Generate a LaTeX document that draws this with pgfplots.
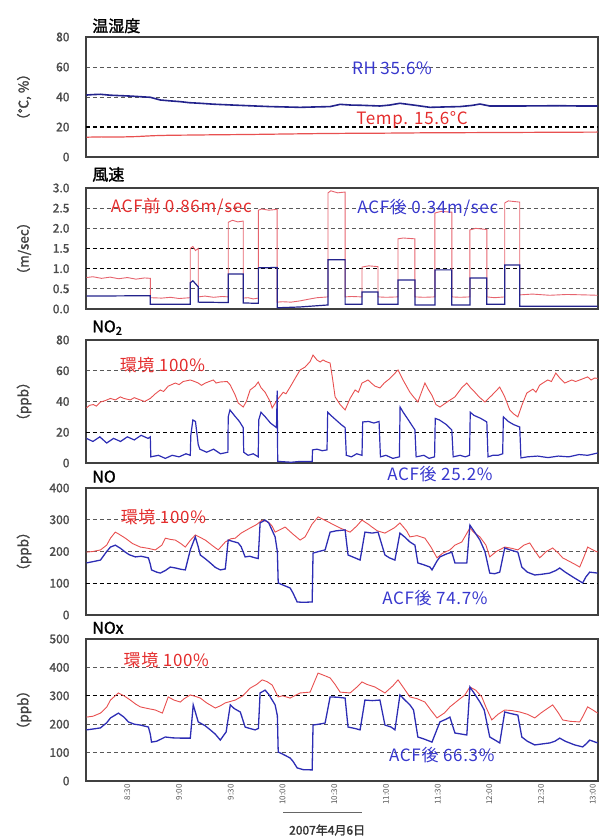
\documentclass[border=0pt]{standalone}
\usepackage{fontspec}
\setmainfont{Noto Sans CJK JP}[AutoFakeBold=1.6]
\usepackage{pgfplots}
\pgfplotsset{compat=1.18}
\definecolor{myred}{RGB}{232,80,80}
\definecolor{windred}{RGB}{230,100,110}
\definecolor{myblue}{RGB}{45,45,180}
\definecolor{navy}{RGB}{35,35,140}
\definecolor{txtred}{RGB}{228,45,45}
\definecolor{txtblue}{RGB}{55,55,205}
\newcommand{\ann}{\fontsize{17}{17}\selectfont\addfontfeature{LetterSpace=4}}
\newcommand{\ttl}{\fontsize{16}{16}\selectfont\bfseries}
\begin{document}
\begin{tikzpicture}
\useasboundingbox (0,0) rectangle (600pt,839pt);
\pgfplotsset{panel/.style={
  scale only axis, width=512pt, anchor=south west,
  xmin=6, xmax=303, xtick={30,60,...,300}, xticklabels={},
  clip mode=individual,
  axis line style={draw=black!75, line width=1.3pt},
  major tick length=0pt,
  ymajorgrids,
  major grid style={black!65, line width=0.7pt, dash pattern=on 4pt off 3pt},
  extra y tick labels={},
  extra y tick style={grid=major, major grid style={black, line width=1.1pt, dash pattern=on 4pt off 3pt}},
  tick label style={font=\fontsize{12}{12}\selectfont\bfseries, text=black!70},
  /pgf/number format/assume math mode=true,
  yticklabel style={xshift=-13pt},
  ylabel style={at={(axis description cs:-0.121,0.5)}, anchor=center, font=\fontsize{13.5}{13.5}\selectfont\bfseries, text=black!75},
}}
% ---------- Panel 1: temperature / humidity
\begin{axis}[panel, at={(86pt,682pt)}, height=120pt, ymin=0, ymax=80,
  ytick={0,20,...,80}, extra y ticks={20}, ylabel={（℃, \%）}]
\addplot[myred, line width=1.2pt] coordinates {(6.3,13.2)(15,13.4)(25,13.3)(35,13.6)(45,14.2)(55,14.5)(65,14.6)(80,14.8)(100,15.0)(120,15.3)(140,15.6)(160,15.8)(180,15.9)(200,16.1)(220,16.2)(240,16.3)(260,16.4)(280,16.5)(302.8,16.6)};
\addplot[navy, line width=1.6pt] coordinates {(6.3,41.3)(10,41.6)(14.4,41.8)(20,41.2)(25.9,40.9)(32,40.6)(37.5,40.2)(43.3,39.8)(49.1,38)(55,37.4)(60.7,36.9)(66,36.2)(72.3,35.8)(80,35.2)(89.7,34.7)(100,34.2)(112.8,33.6)(120,33.4)(130.2,33.1)(140,33.4)(147.6,33.6)(153.4,35.1)(160,34.6)(165,34.5)(176.5,34)(182,34.6)(188.1,35.8)(196.8,34.5)(205.5,33.1)(215,33.4)(222.9,33.6)(230,34.4)(234.5,35.3)(240.2,34)(250,34)(257.6,34)(270,34.1)(280.8,34.2)(292,34)(302.8,34)};
\node[text=txtblue, font=\ann] at (axis cs:183.5,59.3) {RH 35.6\%};
\node[text=txtred, font=\ann] at (axis cs:195.1,24.5) {Temp. 15.6°C};
\node[anchor=south west, font=\ttl, inner sep=0pt] at (rel axis cs:0.012,1.03) {温湿度};
\end{axis}
% ---------- Panel 2: wind speed
\begin{axis}[panel, at={(86pt,530pt)}, height=121pt, ymin=0, ymax=3,
  ytick={0,0.5,...,3.0}, extra y ticks={1.0,1.5}, ylabel={（m/sec）},
  yticklabel style={/pgf/number format/.cd, fixed, fixed zerofill, precision=1}]
\addplot[windred, line width=0.9pt] coordinates {(6.3,0.78)(10,0.80)(15,0.76)(20,0.79)(25,0.75)(30,0.78)(35,0.74)(40,0.77)(43.3,0.76)
(43.3,0.28)(50,0.27)(55,0.29)(60,0.26)(66.5,0.28)
(66.5,1.50)(68,1.55)(69.5,1.45)(71.1,1.50)
(71.1,0.30)(75,0.32)(80,0.29)(85,0.31)(88.5,0.30)
(88.5,2.15)(91,2.20)(94,2.16)(97.2,2.18)
(97.2,0.27)(100,0.28)(103,0.25)(106,0.27)
(106,2.45)(108,2.48)(112,2.45)(116.9,2.47)
(116.9,0.17)(120,0.18)(125,0.17)(130,0.20)(136,0.25)(140,0.28)(146.4,0.30)
(146.4,2.88)(148,2.93)(152,2.88)(156.3,2.90)
(156.3,0.30)(160,0.31)(166.1,0.30)
(166.1,1.04)(170,1.07)(175.4,1.05)
(175.4,0.30)(180,0.29)(187,0.30)
(187,1.74)(190,1.76)(196.8,1.74)
(196.8,0.30)(202,0.29)(208.4,0.30)
(208.4,2.38)(212,2.42)(218.2,2.40)
(218.2,0.30)(223,0.29)(228.7,0.30)
(228.7,1.96)(232,2.00)(238.5,1.97)
(238.5,0.30)(243,0.28)(248.9,0.30)
(248.9,2.63)(251,2.68)(257.6,2.65)
(257.6,0.35)(265,0.37)(275,0.34)(285,0.36)(295,0.35)(302.8,0.34)};
\addplot[navy, line width=1.2pt] coordinates {(6.3,0.32)(43.3,0.33)
(43.3,0.12)(66.5,0.12)
(66.5,0.65)(68,0.70)(71.1,0.55)
(71.1,0.17)(88.5,0.16)
(88.5,0.87)(97.2,0.87)
(97.2,0.15)(106,0.14)
(106,1.02)(116.9,1.03)
(116.9,0.03)(130,0.05)(146.4,0.10)
(146.4,1.22)(156.3,1.22)
(156.3,0.12)(166.1,0.12)
(166.1,0.42)(175.4,0.42)
(175.4,0.12)(187,0.12)
(187,0.72)(196.8,0.72)
(196.8,0.10)(208.4,0.10)
(208.4,0.97)(218.2,0.97)
(218.2,0.10)(228.7,0.10)
(228.7,0.77)(238.5,0.77)
(238.5,0.12)(248.9,0.12)
(248.9,1.09)(257.6,1.09)
(257.6,0.07)(302.8,0.07)};
\node[text=txtred, font=\ann] at (axis cs:61.3,2.53) {ACF前 0.86m/sec};
\node[text=txtblue, font=\ann] at (axis cs:204.3,2.51) {ACF後 0.34m/sec};
\node[anchor=south west, font=\ttl, inner sep=0pt] at (rel axis cs:0.012,1.05) {風速};
\end{axis}
% ---------- Panel 3: NO2
\begin{axis}[panel, at={(86pt,376pt)}, height=123pt, ymin=0, ymax=80,
  ytick={0,20,...,80}, extra y ticks={20}, ylabel={（ppb）}]
\addplot[myred, line width=0.9pt] coordinates {(6.3,35.8)(8,37.5)(10.3,38)(12,37)(14.4,39.7)(17,40.5)(20.2,42)(23,41)(25.9,43)(28,42)(31.7,41)(34,42.5)(37.5,41)(40,40)(43.3,42)(46.2,45)(49.1,47.5)(51,46.5)(53.7,50)(57.8,52)(60,51)(62.4,53)(66.5,54)(69,53)(71.1,52)(73,50.5)(75.2,52)(79.8,54)(81.5,52)(83.9,52.7)(87.9,53)(89.7,50.7)(92.6,44)(94.3,39)(97.2,36.4)(99,40)(101.2,47.5)(104.1,50)(105.9,52.7)(107.5,49)(109.9,46)(112.8,40)(114,35.8)(116.9,41)(120.4,46)(122,45)(124.4,49.4)(127.3,55)(130.2,60.5)(133.1,62.4)(136,66)(137.7,70.2)(140,67)(141.8,65.7)(143.5,67)(145.2,66)(147.6,65)(149,55)(150.5,43)(153.4,38)(156.3,34.5)(159.2,42)(162.1,47.5)(164,46)(166.1,52)(169.6,54)(171.5,52)(173.6,50)(176.5,48.8)(179,52)(182.3,55)(187,60.5)(189.9,54)(193.9,46)(196,43)(198.5,39.7)(202.6,52)(204.5,48)(206.7,44)(209,38)(211.3,36.4)(215.9,40)(220,43)(224,49)(226.9,52)(229,49)(231.6,46)(234,43)(237.4,39.7)(241.4,44)(246,49.4)(248.9,43)(251.8,34.5)(254,32)(256.5,30)(259,38)(261.7,45.5)(265.2,48)(267,46)(269.2,50.7)(273.8,54)(276,53)(278.5,58.5)(281,55)(283.7,52)(287.8,54)(290,53)(292.4,54)(297,56)(299,54)(301.1,55.3)(302.8,55)};
\addplot[myblue, line width=1.2pt] coordinates {(6.3,16)(10,14)(14,17)(18,13)(22,16)(26,14)(30,17)(34,15)(38,18)(42,16)(43.3,17)
(43.6,4)(48,5)(52,3)(56,5)(60,4)(64,6)(66.5,5)
(66.8,18)(68,28)(69.5,27)(71.1,12)
(72,9)(76,7)(80,9)(84,6)(88.3,7)
(88.5,30)(89.5,34.5)(92,31)(95,27)(97.2,23)
(97.5,7)(100,5)(103,6)(105.9,4)
(106.2,28)(107.5,33)(110,30)(113,26)(116.5,23)
(116.9,47)(117.2,1)
(118,1)(125,0.5)(130,1)(136,1)(137.2,1)
(137.4,8.5)(140,9)(143,8)(145.8,8.5)
(146.2,33)(148,31)(151,28)(154,25)(156.3,23)
(157,5)(160,4)(163,6)(166.1,5)
(166.5,26.7)(170,27)(173,26)(176,27)
(176.8,4)(180,5)(184,3)(187.8,4)
(188.2,36.4)(190,33)(193,28)(196.8,21.5)
(197.5,4)(202,5)(205,3)(208.2,4)
(208.6,29)(211,28)(215,25)(218.2,21.5)
(219,4)(223,5)(226,4)(228.5,5)
(228.9,33)(231,31)(235,29)(238.5,26.7)
(239.2,4)(242,5)(245,5)(247.7,6)
(248.1,30)(251,27)(254,25)(257.6,23.4)
(258.3,3.3)(262,4)(268,4.5)(274,3.5)(280,4.5)(286,4)(292,5.5)(297,5)(302.8,6.5)};
\node[text=txtred, font=\ann] at (axis cs:50.3,63.7) {環境 100\%};
\node[text=txtblue, font=\ann] at (axis cs:211.3,-7.2) {ACF後 25.2\%};
\node[anchor=south west, font=\ttl, inner sep=0pt] at (rel axis cs:0.012,1.04) {NO\textsubscript{2}};
\end{axis}
% ---------- Panel 4: NO
\begin{axis}[panel, at={(86pt,224pt)}, height=127pt, ymin=0, ymax=400,
  ytick={0,100,...,400}, extra y ticks={100}, ylabel={（ppb）}]
\addplot[myred, line width=0.9pt] coordinates {(6.3,198)(10,200)(14.4,205)(18,220)(20.2,242)(23,261)(25,255)(28.8,242)(33,225)(37.5,214)(42,210)(46.2,205)(50,220)(52,242)(55,238)(57.8,236)(61,225)(63.6,214)(66.5,235)(69.4,252)(72,245)(75.2,236)(79,220)(82.7,205)(86.8,230)(90,240)(92.6,242)(96,258)(101.2,274)(105,285)(108.2,299)(111.7,293)(114,280)(115.7,261)(119,270)(121.5,277)(126,255)(130.2,236)(133.1,246)(137,285)(140.6,309)(144,300)(147.6,290)(153.4,274)(159.2,261)(163,280)(166.1,299)(170,285)(171.9,277)(175,265)(179.4,258)(185,275)(188.1,290)(192,265)(193.9,246)(198,250)(202.6,242)(206,215)(209.6,180)(213,195)(217.1,205)(220,220)(224,230)(228.7,274)(231,260)(234.5,246)(238,220)(240.2,183)(244,200)(248.9,214)(253,210)(256.5,205)(260,220)(263.4,227)(266,205)(269.2,180)(273,200)(276.7,211)(280,195)(282.5,180)(286,170)(289.5,160)(292.4,151)(295,185)(297,214)(300,205)(302.8,198)};
\addplot[myblue, line width=1.3pt] coordinates {(6.3,164)(10,168)(14.4,173)(18,200)(20.2,214)(23,220)(26,210)(28.8,198)(31,190)(34.6,183)(38,185)(42.2,180)(43.3,160)(44,142)(47,135)(49.1,132)(52,140)(54.9,151)(58,148)(61,144)(63.6,142)(66.5,205)(69.4,246)(71.1,215)(72.3,189)(75,178)(78.1,164)(81,150)(83.9,142)(86.8,145)(88.5,236)(91,232)(94.3,227)(96,215)(98.3,183)(101,185)(104.1,180)(105.9,178)(107,290)(109.9,299)(112,290)(115.7,246)(117,200)(117.5,101)(120,95)(124.4,85)(126,70)(128.5,41)(132,40)(137.2,41)(137.7,195)(141,200)(144.7,205)(147.6,261)(151,265)(156.3,268)(158,189)(162,180)(165,173)(167.8,261)(172,258)(175.4,261)(179.4,189)(182,180)(185.2,173)(188.1,258)(191,245)(193.9,230)(196.8,220)(198.5,164)(202,158)(205.5,151)(206.7,142)(209.6,170)(211.3,183)(215,192)(218.2,198)(220,164)(226.9,164)(228.7,283)(231.6,260)(234.5,236)(237.4,200)(240.2,132)(243,130)(246,135)(248.9,211)(252,205)(256.5,198)(258.8,151)(262,135)(266.3,126)(270,128)(275,132)(278.5,140)(280.8,148)(284,135)(289.5,116)(294.1,101)(296,120)(298.2,135)(302.8,132)};
\node[text=txtred, font=\ann] at (axis cs:50.9,309) {環境 100\%};
\node[text=txtblue, font=\ann] at (axis cs:208.4,53.5) {ACF後 74.7\%};
\node[anchor=south west, font=\ttl, inner sep=0pt] at (rel axis cs:0.012,1.04) {NO};
\end{axis}
% ---------- Panel 5: NOx
\begin{axis}[panel, at={(86pt,58pt)}, height=142pt, ymin=0, ymax=500,
  ytick={0,100,...,500}, extra y ticks={300}, ylabel={（ppb）},
  xticklabels={8:30,9:00,9:30,10:00,10:30,11:00,11:30,12:00,12:30,13:00},
  xticklabel style={rotate=90, anchor=east, font=\fontsize{8}{8}\selectfont, text=black!65},
  xlabel={2007年4月6日},
  xlabel style={at={(axis description cs:0.471,0)}, anchor=center, yshift=-49pt, font=\fontsize{12}{12}\selectfont\bfseries, text=black!80}]
\addplot[myred, line width=0.9pt] coordinates {(6.3,225)(10,228)(14.4,239)(18,260)(20.2,285)(24.8,310)(28,300)(31.7,285)(35,270)(37.5,261)(42,255)(46.2,250)(50.3,239)(53.7,296)(57,285)(60.7,278)(63,290)(66.5,303)(69.4,298)(72.3,292)(76,275)(81,257)(84,265)(86.8,275)(92.6,285)(97,300)(101.2,327)(105,340)(108.2,356)(111,350)(114,338)(117.5,296)(120,300)(124.4,292)(127,300)(130.2,310)(136,313)(140.6,380)(144,372)(147.6,363)(150.5,340)(153.4,313)(159.2,310)(163,330)(166.1,349)(169,340)(173.6,331)(179.4,310)(184,335)(187,356)(190,330)(193.9,296)(198,290)(202.6,278)(206,250)(209.6,222)(214,240)(217.1,261)(222,285)(225.8,303)(228.7,331)(232,320)(235.6,296)(238,260)(241.4,215)(245,235)(248.9,250)(253,248)(257.6,243)(262,235)(266.3,222)(270,240)(276.7,268)(280,240)(282.5,215)(287,210)(292.4,208)(294,225)(297,261)(300,250)(302.8,239)};
\addplot[myblue, line width=1.3pt] coordinates {(6.3,180)(10,183)(14.4,187)(18,205)(20.2,222)(24.8,239)(28,225)(30.6,208)(34,200)(37.5,197)(42.2,190)(43.3,165)(44,137)(47,140)(52,155)(56,152)(60.7,151)(66.5,151)(68.2,268)(71.1,208)(75,195)(78.1,180)(81,165)(83.9,144)(87.3,173)(89.7,268)(92,255)(95.5,243)(98.3,190)(101,185)(104.1,180)(106,185)(107,310)(109.9,320)(112,305)(115.7,268)(117,230)(117.5,102)(120,95)(124.4,81)(126,70)(128.5,46)(132,40)(137.2,39)(137.7,197)(141,200)(144.7,204)(147.6,296)(152,295)(156.3,292)(158,190)(162,185)(165,180)(167.8,285)(172,283)(176.5,285)(179.4,197)(183,190)(185.2,180)(188.1,303)(191,285)(193.9,268)(196,250)(198.5,155)(202,148)(206.7,137)(211.3,208)(215,218)(217.1,225)(220,169)(224,165)(226.9,162)(228.7,331)(231.6,305)(234.5,278)(237,250)(240.2,155)(243,145)(246,134)(248.9,243)(252,238)(256.5,232)(258.8,155)(262,140)(266.3,127)(270,130)(275,134)(278,140)(280.8,151)(284,140)(289.5,127)(294.1,120)(296,130)(298.2,144)(302.8,134)};
\node[text=txtred, font=\ann] at (axis cs:52.6,426) {環境 100\%};
\node[text=txtblue, font=\ann] at (axis cs:212.4,91.5) {ACF後 66.3\%};
\node[anchor=south west, font=\ttl, inner sep=0pt] at (rel axis cs:0.012,1.035) {NOx};
\draw[black!60, line width=0.6pt] (axis cs:120.4,-109) -- (axis cs:166.1,-109);
\end{axis}
\end{tikzpicture}
\end{document}
